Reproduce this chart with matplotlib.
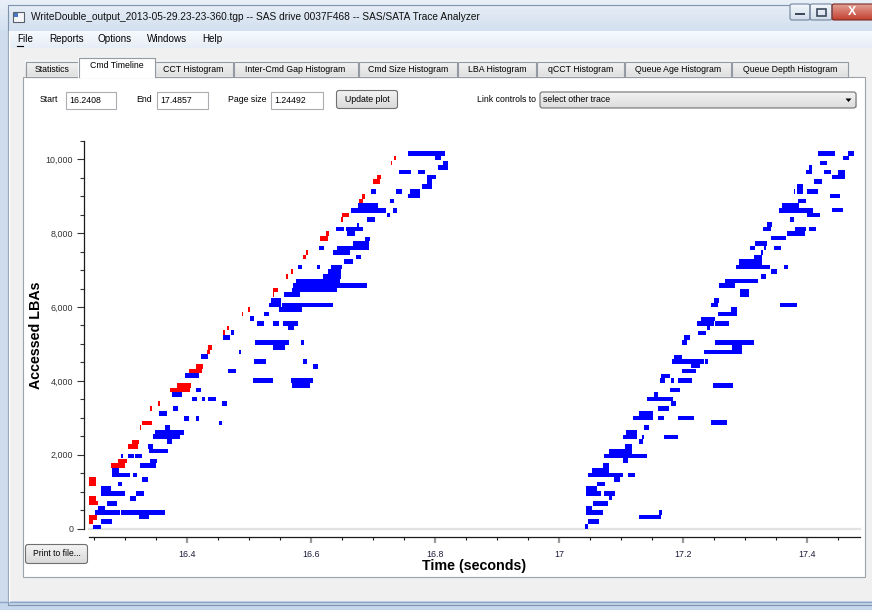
import matplotlib
matplotlib.use("Agg")
import matplotlib.pyplot as plt
import matplotlib.ticker as mticker
from matplotlib.patches import Rectangle, FancyBboxPatch, Polygon
from matplotlib.colors import LinearSegmentedColormap
import numpy as np

# ------------------------------------------------------------------ data
# write commands (blue): start time (s), end time (s), first LBA, last LBA
blue_start = [16.2482, 16.2606, 16.2509, 16.2929, 16.3225, 16.2563, 16.2698, 16.2601, 16.2762, 16.3074,
              16.3171, 16.2886, 16.3273, 16.2778, 16.2778, 16.3128, 16.3236, 16.3397, 16.2924, 16.3047,
              16.3155, 16.3386, 16.3370, 16.3451, 16.3478, 16.3639, 16.3677, 16.4517, 16.3952, 16.4135,
              16.3543, 16.3774, 16.4554, 16.3747, 16.4070, 16.4231, 16.4334, 16.4140, 16.3968, 16.4662,
              16.5055, 16.5674, 16.5695, 16.5076, 16.5868, 16.6034, 16.4215, 16.4834, 16.5093, 16.5389,
              16.5830, 16.4570, 16.4700, 16.5119, 16.5389, 16.5550, 16.5620, 16.5017, 16.5238, 16.5313,
              16.5351, 16.5485, 16.5523, 16.5555, 16.5695, 16.5711, 16.5755, 16.6185, 16.6277, 16.6314,
              16.5781, 16.6094, 16.6530, 16.6718, 16.6357, 16.6411, 16.6669, 16.6869, 16.6126, 16.6400,
              16.6556, 16.6573, 16.6745, 16.6896, 16.6637, 16.6761, 16.7229, 16.7326, 16.7272, 16.6965,
              16.7364, 16.7568, 16.7595, 16.7789, 16.7864, 16.7864, 16.7423, 16.7730, 16.8053, 16.8133,
              16.7568, 16.7999,
              17.0414, 17.0467, 17.1286, 17.1614, 17.0430, 17.0430, 17.0548, 17.0430, 17.0430, 17.0726,
              17.0807, 17.0618, 17.0467, 17.0532, 17.0710, 17.0882, 17.1113, 17.0726, 17.0807, 17.1070,
              17.1043, 17.1043, 17.1086, 17.1286, 17.1339, 17.1695, 17.1372, 17.1194, 17.1286, 17.1598,
              17.1931, 17.2459, 17.1598, 17.1813, 17.1479, 17.1528, 17.1420, 17.1786, 17.1625, 17.1641,
              17.1813, 17.1921, 17.2496, 17.1980, 17.1829, 17.1856, 17.2136, 17.2362, 17.2335, 17.2513,
              17.2798, 17.1991, 17.2028, 17.2249, 17.2394, 17.2227, 17.2297, 17.2513, 17.2566, 17.2782,
              17.2459, 17.2502, 17.3573, 17.2932, 17.2583, 17.2685, 17.3266, 17.3417, 17.3632, 17.2852,
              17.2916, 17.3158, 17.3266, 17.3089, 17.3169, 17.3304, 17.3471, 17.3417, 17.3686, 17.3820,
              17.4036, 17.3293, 17.3358, 17.3724, 17.3562, 17.3600, 17.4003, 17.4407, 17.3858, 17.3794,
              17.3842, 17.4003, 17.4380, 17.4127, 17.3982, 17.4036, 17.4278, 17.4412, 17.4504, 17.4208,
              17.4181, 17.4595, 17.4665]
blue_end = [16.2606, 16.2789, 16.2913, 16.3639, 16.3386, 16.2671, 16.2870, 16.2762, 16.2994, 16.3166,
            16.3300, 16.2940, 16.3370, 16.3074, 16.2902, 16.3182, 16.3494, 16.3505, 16.2967, 16.3139,
            16.3263, 16.3693, 16.3451, 16.3882, 16.3952, 16.3720, 16.3758, 16.4560, 16.4027, 16.4194,
            16.3666, 16.3844, 16.4640, 16.3919, 16.4161, 16.4280, 16.4463, 16.4226, 16.4188, 16.4786,
            16.5378, 16.6034, 16.5981, 16.5265, 16.5938, 16.6104, 16.4328, 16.4861, 16.5647, 16.5577,
            16.5884, 16.4689, 16.4759, 16.5243, 16.5485, 16.5787, 16.5717, 16.5076, 16.5324, 16.5512,
            16.5512, 16.5851, 16.6347, 16.5814, 16.6411, 16.6896, 16.6465, 16.6481, 16.6481, 16.6503,
            16.5846, 16.6142, 16.6680, 16.6804, 16.6626, 16.6933, 16.6939, 16.6949, 16.6212, 16.6530,
            16.6831, 16.6707, 16.6772, 16.7025, 16.7208, 16.7084, 16.7272, 16.7391, 16.7337, 16.7046,
            16.7461, 16.7757, 16.7757, 16.7950, 16.7945, 16.8015, 16.7606, 16.7843, 16.8214, 16.8214,
            16.8160, 16.8096,
            17.0467, 17.0645, 17.1652, 17.1668, 17.0710, 17.0532, 17.0790, 17.0672, 17.0618, 17.0909,
            17.0855, 17.0737, 17.1043, 17.0807, 17.0807, 17.0990, 17.1221, 17.1425, 17.1183, 17.1183,
            17.1113, 17.1259, 17.1259, 17.1366, 17.1382, 17.1921, 17.1452, 17.1517, 17.1517, 17.1705,
            17.2179, 17.2717, 17.1770, 17.1894, 17.1840, 17.1608, 17.1463, 17.1958, 17.1721, 17.1786,
            17.1851, 17.2152, 17.2809, 17.2217, 17.2335, 17.1991, 17.2281, 17.2410, 17.2959, 17.3153,
            17.2959, 17.2066, 17.2120, 17.2378, 17.2432, 17.2502, 17.2513, 17.2744, 17.2879, 17.2879,
            17.2572, 17.2593, 17.3842, 17.3072, 17.2846, 17.3212, 17.3336, 17.3514, 17.3707, 17.3401,
            17.3277, 17.3277, 17.3293, 17.3164, 17.3358, 17.3347, 17.3589, 17.3659, 17.3966, 17.3982,
            17.4154, 17.3422, 17.3438, 17.3799, 17.4111, 17.3869, 17.4219, 17.4590, 17.3993, 17.3820,
            17.3944, 17.4181, 17.4536, 17.4251, 17.4079, 17.4079, 17.4386, 17.4622, 17.4612, 17.4332,
            17.4455, 17.4692, 17.4757]
blue_lba_lo = [0, 117, 361, 361, 253, 496, 614, 875, 875, 749,
               875, 1146, 1264, 1399, 1516, 1399, 1652, 1778, 1913, 1913,
               1913, 2049, 2166, 2419, 2545, 2662, 2301, 2798, 2915, 2915,
               3050, 3195, 3312, 3565, 3448, 3448, 3448, 3700, 4088, 4206,
               3953, 3953, 3818, 4467, 4467, 4332, 4603, 4720, 4973, 4846,
               4973, 5108, 5244, 5496, 5496, 5496, 5370, 5614, 5749, 6002,
               6119, 5875, 6002, 6272, 6399, 6516, 6642, 6769, 6895, 7021,
               7021, 7021, 7157, 7292, 7419, 7545, 7662, 7789, 7545, 8050,
               8050, 7915, 8159, 8303, 8556, 8682, 8438, 8556, 8817, 9061,
               9061, 8944, 9061, 9206, 9341, 9458, 9594, 9594, 9720, 9837,
               10090, 9973,
               0, 117, 253, 361, 361, 496, 623, 875, 1011, 875,
               767, 1146, 1399, 1516, 1643, 1273, 1399, 1913, 2031, 2166,
               1787, 2419, 2545, 2301, 2419, 2419, 2680, 2933, 3050, 2933,
               2933, 2807, 3195, 3312, 3448, 3565, 3448, 3700, 3953, 4088,
               3953, 3953, 3818, 4215, 4467, 4585, 4341, 4467, 4720, 4973,
               4846, 4973, 5099, 5244, 5370, 5496, 5614, 5496, 5749, 5866,
               6002, 6119, 6002, 6272, 6516, 6642, 6769, 6904, 7021, 7021,
               7148, 7292, 7400, 7545, 7662, 7545, 7545, 7807, 7915, 8050,
               8050, 8050, 8159, 8303, 8556, 8682, 8447, 8565, 8817, 9070,
               9070, 9070, 8953, 9341, 9594, 9720, 9594, 9458, 9585, 9855,
               10099, 9973, 10099]
blue_lba_hi = [108, 253, 496, 496, 361, 614, 749, 1146, 1011, 875,
               1011, 1264, 1399, 1516, 1643, 1516, 1778, 1895, 2031, 2031,
               2031, 2166, 2283, 2554, 2662, 2798, 2419, 2915, 3050, 3050,
               3186, 3312, 3448, 3700, 3565, 3565, 3565, 3818, 4206, 4332,
               4088, 4088, 3953, 4585, 4585, 4449, 4720, 4846, 5099, 4973,
               5099, 5235, 5370, 5614, 5614, 5614, 5496, 5749, 5866, 6119,
               6254, 6002, 6119, 6399, 6516, 6642, 6769, 6895, 7021, 7148,
               7148, 7148, 7292, 7400, 7545, 7662, 7789, 7906, 7662, 8159,
               8159, 8050, 8285, 8438, 8682, 8808, 8556, 8682, 8935, 9187,
               9187, 9061, 9187, 9341, 9458, 9585, 9702, 9702, 9837, 9955,
               10216, 10090,
               117, 253, 361, 496, 496, 614, 749, 1011, 1146, 1011,
               875, 1264, 1516, 1643, 1778, 1399, 1516, 2031, 2166, 2301,
               1913, 2545, 2662, 2419, 2545, 2545, 2798, 3050, 3186, 3050,
               3050, 2933, 3312, 3448, 3565, 3700, 3565, 3818, 4088, 4197,
               4088, 4088, 3953, 4332, 4585, 4711, 4467, 4585, 4846, 5099,
               4973, 5099, 5235, 5352, 5496, 5614, 5740, 5614, 5866, 6002,
               6119, 6254, 6119, 6498, 6642, 6769, 6895, 7021, 7148, 7148,
               7292, 7400, 7536, 7662, 7798, 7662, 7662, 7915, 8050, 8159,
               8159, 8159, 8303, 8438, 8682, 8808, 8556, 8682, 8935, 9187,
               9341, 9187, 9061, 9458, 9720, 9837, 9702, 9585, 9702, 9964,
               10216, 10090, 10216]

# read commands (red)
red_start = [16.2418, 16.2418, 16.2418, 16.2418, 16.2418, 16.2762, 16.2886, 16.3047, 16.3112, 16.3263,
             16.3236, 16.3397, 16.3532, 16.3720, 16.3828, 16.4032, 16.4140, 16.4318, 16.4339, 16.4570,
             16.4646, 16.4883, 16.4974, 16.5378, 16.5389, 16.5588, 16.5674, 16.5868, 16.5921, 16.6142,
             16.6239, 16.6486, 16.6503, 16.6772, 16.6815, 16.7003, 16.7068, 16.7283, 16.7342]
red_end = [16.2547, 16.2472, 16.2525, 16.2563, 16.2525, 16.2994, 16.3020, 16.3209, 16.3225, 16.3424,
           16.3252, 16.3424, 16.3559, 16.4043, 16.4059, 16.4242, 16.4258, 16.4371, 16.4393, 16.4603,
           16.4678, 16.4904, 16.5006, 16.5405, 16.5459, 16.5625, 16.5701, 16.5911, 16.5954, 16.6277,
           16.6293, 16.6519, 16.6605, 16.6842, 16.6869, 16.7111, 16.7127, 16.7305, 16.7364]
red_lba_lo = [226, 117, 749, 632, 1146, 1652, 1778, 2166, 2301, 2798,
              2680, 3195, 3312, 3700, 3818, 4206, 4332, 4720, 4837, 5235,
              5370, 5749, 5875, 6272, 6399, 6769, 6904, 7292, 7419, 7789,
              7915, 8303, 8438, 8808, 8935, 9341, 9458, 9837, 9973]
red_lba_hi = [361, 226, 875, 749, 1399, 1778, 1895, 2301, 2410, 2915,
              2798, 3312, 3448, 3818, 3944, 4332, 4449, 4837, 4964, 5370,
              5496, 5866, 6002, 6408, 6516, 6904, 7030, 7419, 7545, 7915,
              8050, 8438, 8556, 8935, 9061, 9458, 9585, 9955, 10090]

x_range = (16.2408, 17.4857)
y_range = (0, 10500)
x_major = [16.4, 16.6, 16.8, 17.0, 17.2, 17.4]
x_tick_labels = ["16.4", "16.6", "16.8", "17", "17.2", "17.4"]
y_major = [0, 2000, 4000, 6000, 8000, 10000]
y_tick_labels = ["0", "2,000", "4,000", "6,000", "8,000", "10,000"]

window_title = "WriteDouble_output_2013-05-29.23-23-360.tgp -- SAS drive 0037F468 -- SAS/SATA Trace Analyzer"
menu_items = ["File", "Reports", "Options", "Windows", "Help"]
tab_labels = ["Statistics", "Cmd Timeline", "CCT Histogram", "Inter-Cmd Gap Histogram", "Cmd Size Histogram",
              "LBA Histogram", "qCCT Histogram", "Queue Age Histogram", "Queue Depth Histogram"]
selected_tab = "Cmd Timeline"
start_text, end_text, page_text = "16.2408", "17.4857", "1.24492"

# ------------------------------------------------------------------ figure
W, H = 872, 610
FONT = "Liberation Sans"
fig = plt.figure(figsize=(W / 100, H / 100), dpi=100)
fig.patch.set_facecolor("#cfdcec")
R = fig.canvas.get_renderer()


def fit_size(s, width, weight="normal", ref=10.0):
    t = fig.text(0, 0, s, fontsize=ref, fontweight=weight, family=FONT)
    w = t.get_window_extent(R).width
    t.remove()
    return ref * width / w


bg = fig.add_axes([0, 0, 1, 1])
bg.set_axis_off()


def box(x0, y0, x1, y1, fc, ec="none", lw=1.0, z=1, r=0):
    if r:
        p = FancyBboxPatch((x0, y0), x1 - x0, y1 - y0, boxstyle=f"round,pad=0,rounding_size={r}",
                           fc=fc, ec=ec, lw=lw, zorder=z)
    else:
        p = Rectangle((x0, y0), x1 - x0, y1 - y0, fc=fc, ec=ec, lw=lw, zorder=z)
    bg.add_patch(p)


def grad(x0, y0, x1, y1, c0, c1, z=1):
    cm = LinearSegmentedColormap.from_list("g", [c0, c1])
    bg.imshow(np.linspace(0, 1, 64)[:, None], cmap=cm, extent=(x0, x1, y1, y0), aspect="auto",
              zorder=z, interpolation="bilinear", origin="upper")


def txt(x, y, s, size, ha="left", va="center", color="#000000", weight="normal", z=6):
    return bg.text(x, y, s, fontsize=size, ha=ha, va=va, color=color, fontweight=weight, family=FONT, zorder=z)


# title bar
grad(0, 0, W, 31, "#e9f0f8", "#d3e0ef", z=1)
box(7.5, 4.5, W + 5, 605, "none", ec="#7f93ad", lw=0.8, z=2)
box(13, 12, 24, 22, "#f4f6f8", ec="#59606a", lw=0.8, z=3)
box(14, 13, 18, 17, "#4a78c0", z=4)
title_fs = fit_size(window_title, 448)
txt(31, 17, window_title, title_fs, color="#101010")
# caption buttons
grad(790, 4, 810, 20, "#f4f7fb", "#d2ddeb", z=3)
box(790, 4, 810, 20, "none", ec="#71839c", lw=0.8, z=4, r=2)
box(795, 13, 805, 15, "#3c4a5c", z=5)
grad(810, 4, 832, 20, "#f4f7fb", "#d2ddeb", z=3)
box(810, 4, 832, 20, "none", ec="#71839c", lw=0.8, z=4, r=2)
box(816.5, 8.5, 825.5, 15.5, "none", ec="#3c4a5c", lw=1.2, z=5)
grad(832, 4, W + 2, 20, "#e3a095", "#c3402f", z=3)
box(832, 4, W + 4, 20, "none", ec="#7a2a22", lw=0.8, z=4, r=2)
txt(852, 12, "X", 9, ha="center", color="white", weight="bold")

# menu bar
grad(8, 31, W, 48, "#f7fafd", "#e6edf6", z=1)
menu_fs = fit_size("Windows", 40)
menu_x = [17, 49, 97, 147, 202]
for mx, item in zip(menu_x, menu_items):
    txt(mx, 39.5, item, menu_fs)
bg.plot([17, 23], [45.5, 45.5], color="black", lw=0.8, zorder=6)

# client area
box(8, 48, W, 601, "#f0f0f0", z=1)
box(0, 601, W, H, "#c6d7ec", z=1)
bg.plot([0, W], [601.5, 601.5], color="#8ea6c4", lw=1, zorder=2)
box(0, 31, 8, 601, "#cfdcec", z=1)
bg.plot([8.5, 8.5], [31, 601], color="#ffffff", lw=1, zorder=2)

# tab panel
box(22.5, 76.5, 864.5, 576.5, "white", ec="#9da3ab", lw=0.8, z=2)
tab_edges = [25, 79, 154, 233, 358, 457.5, 536.5, 624, 731.5, 848]
tab_fs = fit_size("CCT Histogram", 60)
for i, lab in enumerate(tab_labels):
    x0, x1 = tab_edges[i], tab_edges[i + 1]
    if lab == selected_tab:
        continue
    grad(x0, 61, x1, 76.5, "#f5f5f5", "#e0e0e0", z=3)
    box(x0 + 0.5, 61.5, x1 - 0.5, 76.5, "none", ec="#939aa3", lw=0.8, z=4)
    txt((x0 + x1) / 2, 69, lab, tab_fs)
for i, lab in enumerate(tab_labels):
    if lab != selected_tab:
        continue
    x0, x1 = tab_edges[i] - 1, tab_edges[i + 1] + 1
    box(x0, 57.5, x1, 77.5, "white", z=5)
    bg.plot([x0 + 0.5, x0 + 0.5, x1 - 0.5, x1 - 0.5], [77, 57.5, 57.5, 77], color="#939aa3", lw=0.8, zorder=6)
    txt((x0 + x1) / 2, 66, lab, tab_fs, z=7)
# center tab texts
for t in bg.texts:
    if t.get_text() in tab_labels:
        t.set_ha("center")

# controls row
ctrl_fs = tab_fs
txt(40, 100, "Start", ctrl_fs)
box(65.5, 91.5, 116, 108.5, "white", ec="#abadb3", lw=0.8, z=3)
txt(69, 100.5, start_text, ctrl_fs)
txt(136.5, 100, "End", ctrl_fs)
box(156.5, 91.5, 207.5, 108.5, "white", ec="#abadb3", lw=0.8, z=3)
txt(160, 100.5, end_text, ctrl_fs)
txt(228, 100, "Page size", ctrl_fs)
box(270.5, 91.5, 322.5, 108.5, "white", ec="#abadb3", lw=0.8, z=3)
txt(274, 100.5, page_text, ctrl_fs)
grad(337, 91, 397.5, 108.5, "#f3f3f3", "#dadada", z=3)
box(336.5, 90.5, 397.5, 108.5, "none", ec="#707070", lw=0.8, z=4, r=2.5)
txt(367, 99.5, "Update plot", ctrl_fs, ha="center")
txt(536, 100, "Link controls to", ctrl_fs, ha="right")
grad(540, 92, 856, 108, "#f3f3f3", "#dcdcdc", z=3)
box(540, 92, 856, 108, "none", ec="#707070", lw=0.8, z=4, r=2.5)
txt(543, 100, "select other trace", ctrl_fs)
bg.add_patch(Polygon([[845.5, 98.5], [851.5, 98.5], [848.5, 102]], closed=True, fc="black", ec="none", zorder=6))

# print button
grad(26, 545, 87, 563, "#f3f3f3", "#dadada", z=3)
box(25.5, 544.5, 87.5, 563.5, "none", ec="#707070", lw=0.8, z=4, r=2.5)
txt(56.5, 554, "Print to file...", ctrl_fs * 0.98, ha="center")

bg.set_xlim(0, W)
bg.set_ylim(H, 0)

# ------------------------------------------------------------------ plot
ax_left, ax_right, ax_top, ax_zero = 88.7, 859.7, 140.7, 528.7
ax = fig.add_axes([ax_left / W, (H - ax_zero) / H, (ax_right - ax_left) / W, (ax_zero - ax_top) / H])
ax.patch.set_alpha(0)

ax.bar(blue_start, np.subtract(blue_lba_hi, blue_lba_lo), width=np.subtract(blue_end, blue_start),
       bottom=blue_lba_lo, align="edge", color="#0000ff", linewidth=0, zorder=3)
ax.bar(red_start, np.subtract(red_lba_hi, red_lba_lo), width=np.subtract(red_end, red_start),
       bottom=red_lba_lo, align="edge", color="#ff0000", linewidth=0, zorder=3)
ax.axhline(0, color="#e2e2e2", lw=1.6, zorder=1, clip_on=False)

ax.set_xlim(*x_range)
ax.set_ylim(*y_range)
for s in ("top", "right"):
    ax.spines[s].set_visible(False)
ax.spines["left"].set_position(("outward", 3.2))
ax.spines["bottom"].set_position(("outward", 6.0))
ax.spines["left"].set_color("#1a1a1a")
ax.spines["bottom"].set_color("#1a1a1a")
ax.spines["left"].set_linewidth(0.9)
ax.spines["bottom"].set_linewidth(0.9)

tick_fs = fit_size("10,000", 27)
ax.set_yticks(y_major, y_tick_labels)
ax.yaxis.set_minor_locator(mticker.MultipleLocator(500))
ax.set_xticks(x_major, x_tick_labels)
ax.xaxis.set_minor_locator(mticker.MultipleLocator(0.05))
ax.tick_params(axis="y", which="major", direction="out", length=5, width=0.8, color="#333333",
               labelsize=tick_fs, labelcolor="#303030", pad=3)
ax.tick_params(axis="y", which="minor", direction="out", length=2.8, width=0.8, color="#333333")
ax.tick_params(axis="x", which="major", direction="out", length=4.5, width=1.6, color="#9a9a9a",
               labelsize=tick_fs, labelcolor="#1c1c3a", pad=5)
ax.tick_params(axis="x", which="minor", direction="out", length=2.5, width=0.8, color="#1a1a1a")
for lab in ax.get_xticklabels() + ax.get_yticklabels():
    lab.set_family(FONT)

lab_fs = fit_size("Time (seconds)", 104, weight="bold")
ax.set_xlabel("Time (seconds)", fontsize=lab_fs, fontweight="bold", family=FONT, va="center")
ax.xaxis.set_label_coords(0.5, (H - 566 - (H - ax_zero)) / (ax_zero - ax_top))
ax.set_ylabel("Accessed LBAs", fontsize=lab_fs, fontweight="bold", family=FONT, va="center")
ax.yaxis.set_label_coords((36 - ax_left) / (ax_right - ax_left), (ax_zero - 335) / (ax_zero - ax_top))

fig.savefig("out.png", dpi=100)
